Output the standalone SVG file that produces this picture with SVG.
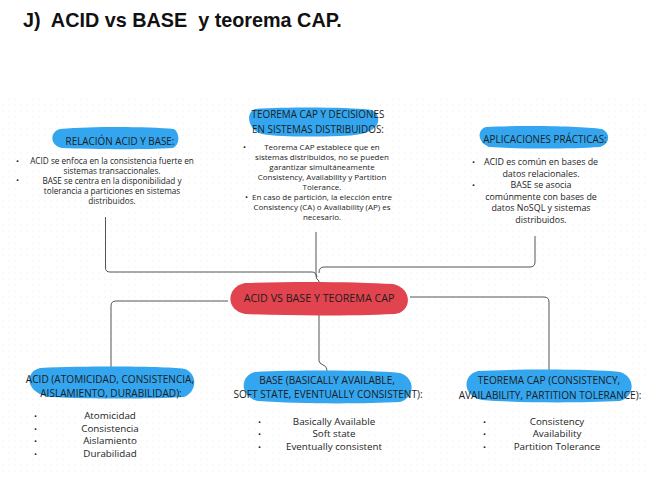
<svg xmlns="http://www.w3.org/2000/svg" width="649" height="477" viewBox="0 0 649 477">
<defs>
<pattern id="dots" width="6" height="6" patternUnits="userSpaceOnUse">
<circle cx="3" cy="3" r="0.5" fill="#e4e4e4"/>
</pattern>
<style>
.t{font-family:"Open Sans",Lato,sans-serif;fill:#1c1c1c;text-anchor:middle}
.h{font-size:9.9px}
.hb{font-size:10.1px}
.s1{font-size:8.2px}
.s2{font-size:8px}
.m{font-size:8.9px}
.l{font-size:9.8px}
.b{font-family:"Open Sans",sans-serif;font-size:8px;fill:#1c1c1c}
.blob{fill:#33a6ef}
.c{fill:none;stroke:#555;stroke-width:1}
</style>
</defs>
<rect width="649" height="477" fill="#fff"/>
<rect x="0" y="95" width="649" height="382" fill="url(#dots)"/>
<text x="23" y="27" style="font-family:'Liberation Sans',Arial,sans-serif;font-size:19.8px;font-weight:bold;fill:#111;white-space:pre">J)  ACID vs BASE  y teorema CAP.</text>

<g id="connectors">
<path class="c" d="M105.5,217 V268 Q105.5,272 110,272 H312 Q316,272 317,277"/>
<path class="c" d="M316,232 V276 Q316,279 319,281 V361 Q319,363 323,365 Q327,366 327,372"/>
<path class="c" d="M535,236 V262 Q535,267 530,267 H324 Q319,267 319,273"/>
<path class="c" d="M228,301 H116 Q111,301 111,306 V367"/>
<path class="c" d="M410,297 H544 Q549,297 549,302 V372"/>
</g>

<g id="relacion">
<path class="blob" d="M60,129 C100,126 150,127 174,129 C180,133 180,145 173,148 C140,150 90,149 62,148 C50,146 49,132 60,129 Z"/>
<text class="t h" x="120" y="145">RELACIÓN ACID Y BASE:</text>
<text class="b" x="16" y="164">•</text>
<text class="b" x="16" y="183">•</text>
<text class="t s1" x="112" y="164">ACID se enfoca en la consistencia fuerte en</text>
<text class="t s1" x="112" y="174">sistemas transaccionales.</text>
<text class="t s1" x="112" y="184">BASE se centra en la disponibilidad y</text>
<text class="t s1" x="112" y="194">tolerancia a particiones en sistemas</text>
<text class="t s1" x="112" y="204">distribuidos.</text>
</g>

<g id="teorema-decisiones">
<path class="blob" d="M255,109 C290,107 345,107 372,110 C380,114 380,124 374,128 C370,133 355,136 340,136 C310,137 280,137 262,134 C248,130 245,113 255,109 Z"/>
<text class="t h" x="318" y="118">TEOREMA CAP Y DECISIONES</text>
<text class="t h" x="318" y="133">EN SISTEMAS DISTRIBUIDOS:</text>
<text class="b" x="243" y="150">•</text>
<text class="b" x="245" y="200">•</text>
<text class="t s2" x="322" y="150">Teorema CAP establece que en</text>
<text class="t s2" x="322" y="160">sistemas distribuidos, no se pueden</text>
<text class="t s2" x="322" y="170">garantizar simultáneamente</text>
<text class="t s2" x="322" y="180">Consistency, Availability y Partition</text>
<text class="t s2" x="322" y="190">Tolerance.</text>
<text class="t s2" x="322" y="200">En caso de partición, la elección entre</text>
<text class="t s2" x="322" y="210">Consistency (CA) o Availability (AP) es</text>
<text class="t s2" x="322" y="220">necesario.</text>
</g>

<g id="aplicaciones">
<path class="blob" d="M486,127 C520,125 580,126 602,129 C611,133 610,144 600,147 C570,149 520,149 490,147 C478,144 476,130 486,127 Z"/>
<text class="t h" x="545" y="143">APLICACIONES PRÁCTICAS:</text>
<text class="b" x="472" y="165">•</text>
<text class="b" x="472" y="188">•</text>
<text class="t m" x="541" y="165">ACID es común en bases de</text>
<text class="t m" x="541" y="176.6">datos relacionales.</text>
<text class="t m" x="541" y="188.2">BASE se asocia</text>
<text class="t m" x="541" y="199.8">comúnmente con bases de</text>
<text class="t m" x="541" y="211.4">datos NoSQL y sistemas</text>
<text class="t m" x="541" y="223">distribuidos.</text>
</g>

<g id="central">
<path d="M245,283 C300,281 360,282 393,284 C412,288 413,311 395,314 C350,316 290,316 245,314 C225,310 226,287 245,283 Z" fill="#e2444f"/>
<text class="t" x="319" y="302" style="font-size:10.7px">ACID VS BASE Y TEOREMA CAP</text>
</g>

<g id="acid">
<path class="blob" d="M40,368 C90,366 160,366 185,369 C198,374 197,392 184,397 C150,399 90,399 50,397 C25,393 24,372 40,368 Z"/>
<text class="t hb" x="110" y="383">ACID (ATOMICIDAD, CONSISTENCIA,</text>
<text class="t hb" x="111" y="397">AISLAMIENTO, DURABILIDAD):</text>
<text class="b" x="34" y="419">•</text>
<text class="b" x="34" y="432">•</text>
<text class="b" x="34" y="444">•</text>
<text class="b" x="34" y="457">•</text>
<text class="t l" x="110" y="419">Atomicidad</text>
<text class="t l" x="110" y="432">Consistencia</text>
<text class="t l" x="110" y="444">Aislamiento</text>
<text class="t l" x="110" y="457">Durabilidad</text>
</g>

<g id="base">
<path class="blob" d="M255,372 C300,370 370,370 400,373 C416,378 415,398 400,402 C360,404 300,404 258,401 C240,397 239,376 255,372 Z"/>
<text class="t hb" x="327" y="384">BASE (BASICALLY AVAILABLE,</text>
<text class="t hb" x="328" y="398">SOFT STATE, EVENTUALLY CONSISTENT):</text>
<text class="b" x="258" y="425">•</text>
<text class="b" x="258" y="437">•</text>
<text class="b" x="258" y="450">•</text>
<text class="t l" x="334" y="425">Basically Available</text>
<text class="t l" x="334" y="437">Soft state</text>
<text class="t l" x="334" y="450">Eventually consistent</text>
</g>

<g id="teorema-cap">
<path class="blob" d="M478,371 C520,369 590,369 620,372 C636,377 635,397 620,401 C580,403 520,403 482,400 C462,396 462,375 478,371 Z"/>
<text class="t hb" x="549" y="384">TEOREMA CAP (CONSISTENCY,</text>
<text class="t hb" x="550" y="399">AVAILABILITY, PARTITION TOLERANCE):</text>
<text class="b" x="483" y="425">•</text>
<text class="b" x="483" y="437">•</text>
<text class="b" x="483" y="450">•</text>
<text class="t l" x="557" y="425">Consistency</text>
<text class="t l" x="557" y="437">Availability</text>
<text class="t l" x="557" y="450">Partition Tolerance</text>
</g>
</svg>
